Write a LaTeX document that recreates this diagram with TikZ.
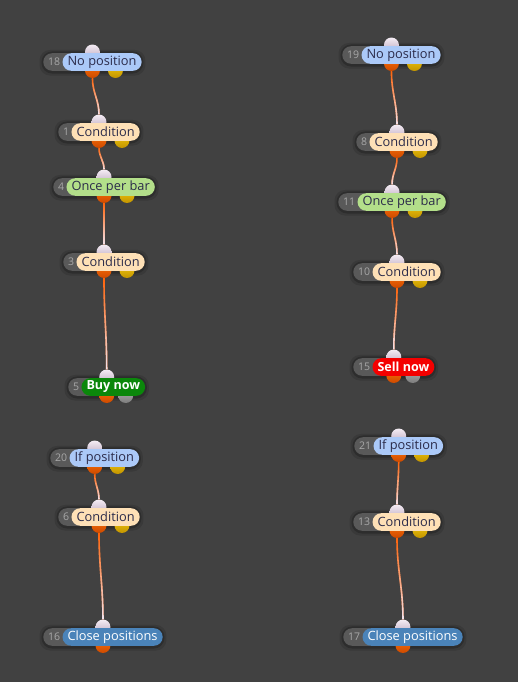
\documentclass[tikz,border=0pt]{standalone}
\usepackage{fontspec}
\setmainfont{Open Sans}
\usetikzlibrary{positioning,calc,fadings}
\definecolor{bgc}{HTML}{414141}
\definecolor{idfill}{HTML}{595959}
\definecolor{idtext}{HTML}{A8A8A8}
\definecolor{ink}{HTML}{2B2B4A}
\definecolor{posblue}{HTML}{ABC9F8}
\definecolor{condpeach}{HTML}{FEE0B6}
\definecolor{oncegreen}{HTML}{B3DF8A}
\definecolor{buygreen}{HTML}{0B870B}
\definecolor{sellred}{HTML}{F40000}
\definecolor{closeblue}{HTML}{4A83B9}
\definecolor{lavtop}{HTML}{F4ECF4}
\definecolor{lavbot}{HTML}{BCA8BE}
\definecolor{ortop}{HTML}{FF7208}
\definecolor{orbot}{HTML}{CC4A00}
\definecolor{yltop}{HTML}{F6CC10}
\definecolor{ylbot}{HTML}{C29400}
\definecolor{grtop}{HTML}{B4B4B4}
\definecolor{grbot}{HTML}{7C7C7C}
\definecolor{wireor}{HTML}{FF6208}
\definecolor{wirelav}{HTML}{F2E6F2}
\pgfdeclarelayer{canvas}
\pgfdeclarelayer{back}
\pgfsetlayers{canvas,back,main}
\tikzfading[name=wirefade,top color=transparent!100,middle color=transparent!75,bottom color=transparent!0]
\tikzset{idp/.style={fill=idfill,text=idtext,rounded corners=6.6pt,minimum height=13.2pt,
 inner xsep=3.6pt,inner ysep=0pt,anchor=west,font=\fontsize{7.9}{9}\selectfont,
 execute at end node={\hspace{10pt}}},
 lbl/.style={fill=#1,text=ink,rounded corners=6.6pt,minimum height=13.2pt,inner xsep=3.8pt,
 inner ysep=0pt,font=\fontsize{9.6}{11}\selectfont},
 act/.style={lbl=#1,text=white,font=\fontsize{9.4}{11}\selectfont\bfseries},
 port/.style={circle,minimum size=11.2pt,inner sep=0pt,top color=#1top,bottom color=#1bot},
 halo/.style={fill=black,opacity=#1,rounded corners=8pt},
 wire/.style={draw=wireor,line width=1.2pt,postaction={draw=wirelav,path fading=wirefade}}}

\begin{document}
\begin{tikzpicture}[x=0.75pt,y=0.75pt]
\begin{pgfonlayer}{canvas}
\fill[bgc] (0,0) rectangle (518,-682);
\end{pgfonlayer}
% left column
\node[idp] (i18) at (43,-62) {18}; \node[lbl=posblue,right=-12.2pt of i18] (l18) {No position};
\node[idp] (i1) at (58,-132) {1}; \node[lbl=condpeach,right=-12.2pt of i1] (l1) {Condition};
\node[idp] (i4) at (53,-187) {4}; \node[lbl=oncegreen,right=-12.2pt of i4] (l4) {Once per bar};
\node[idp] (i3) at (63,-262) {3}; \node[lbl=condpeach,right=-12.2pt of i3] (l3) {Condition};
\node[idp] (i5) at (68,-387) {5}; \node[act=buygreen,right=-12.2pt of i5] (l5) {Buy now};
\node[idp] (i20) at (50,-458) {20}; \node[lbl=posblue,right=-12.2pt of i20] (l20) {If position};
\node[idp] (i6) at (58,-517) {6}; \node[lbl=condpeach,right=-12.2pt of i6] (l6) {Condition};
\node[idp] (i16) at (43,-637) {16}; \node[lbl=closeblue,text=white,right=-12.2pt of i16] (l16) {Close positions};
% right column
\node[idp] (i19) at (342,-55) {19}; \node[lbl=posblue,right=-12.2pt of i19] (l19) {No position};
\node[idp] (i8) at (356,-142) {8}; \node[lbl=condpeach,right=-12.2pt of i8] (l8) {Condition};
\node[idp] (i11) at (338,-202) {11}; \node[lbl=oncegreen,right=-12.2pt of i11] (l11) {Once per bar};
\node[idp] (i10) at (353,-272) {10}; \node[lbl=condpeach,right=-12.2pt of i10] (l10) {Condition};
\node[idp] (i15) at (353,-367) {15}; \node[act=sellred,right=-12.2pt of i15] (l15) {Sell now};
\node[idp] (i21) at (354,-446) {21}; \node[lbl=posblue,right=-12.2pt of i21] (l21) {If position};
\node[idp] (i13) at (353,-522) {13}; \node[lbl=condpeach,right=-12.2pt of i13] (l13) {Condition};
\node[idp] (i17) at (343,-637) {17}; \node[lbl=closeblue,text=white,right=-12.2pt of i17] (l17) {Close positions};
% dark halo, then the ports, all behind the pills
\foreach \n in {18,1,4,3,5,20,6,16,19,8,11,10,15,21,13,17}{
 \begin{pgfonlayer}{canvas}
 \fill[halo=.12] ($(i\n.north west)+(-3.5,3)$) rectangle ($(l\n.south east)+(3.5,-4.5)$);
 \fill[halo=.2] ($(i\n.north west)+(-1.5,1.5)$) rectangle ($(l\n.south east)+(1.5,-2.5)$);
 \end{pgfonlayer}
 \begin{pgfonlayer}{back}
 \node[port=lav] (t\n) at ($(i\n.west)!.5!(l\n.east)+(0,10)$) {};
 \node[port=or] (o\n) at ($(i\n.west)!.5!(l\n.east)+(0,-8.5)$) {};
 \end{pgfonlayer}}
\begin{pgfonlayer}{back}
\foreach \n in {18,1,4,3,20,6,19,8,11,10,21,13} \node[port=yl] (y\n) at ($(o\n)+(23,0)$) {};
\foreach \n in {5,15} \node[port=gr] (g\n) at ($(o\n)+(19,0)$) {};
\end{pgfonlayer}
% wires
\draw[wire] (o18) to[out=-90,in=90] (t1);
\draw[wire] (o1) to[out=-90,in=90] (t4);
\draw[wire] (o4) to[out=-90,in=90] (t3);
\draw[wire] (o3) to[out=-90,in=90] (t5);
\draw[wire] (o20) to[out=-90,in=90] (t6);
\draw[wire] (o6) to[out=-90,in=90] (t16);
\draw[wire] (o19) to[out=-90,in=90] (t8);
\draw[wire] (o8) to[out=-90,in=90] (t11);
\draw[wire] (o11) to[out=-90,in=90] (t10);
\draw[wire] (o10) to[out=-90,in=90] (t15);
\draw[wire] (o21) to[out=-90,in=90] (t13);
\draw[wire] (o13) to[out=-90,in=90] (t17);
\end{tikzpicture}
\end{document}
